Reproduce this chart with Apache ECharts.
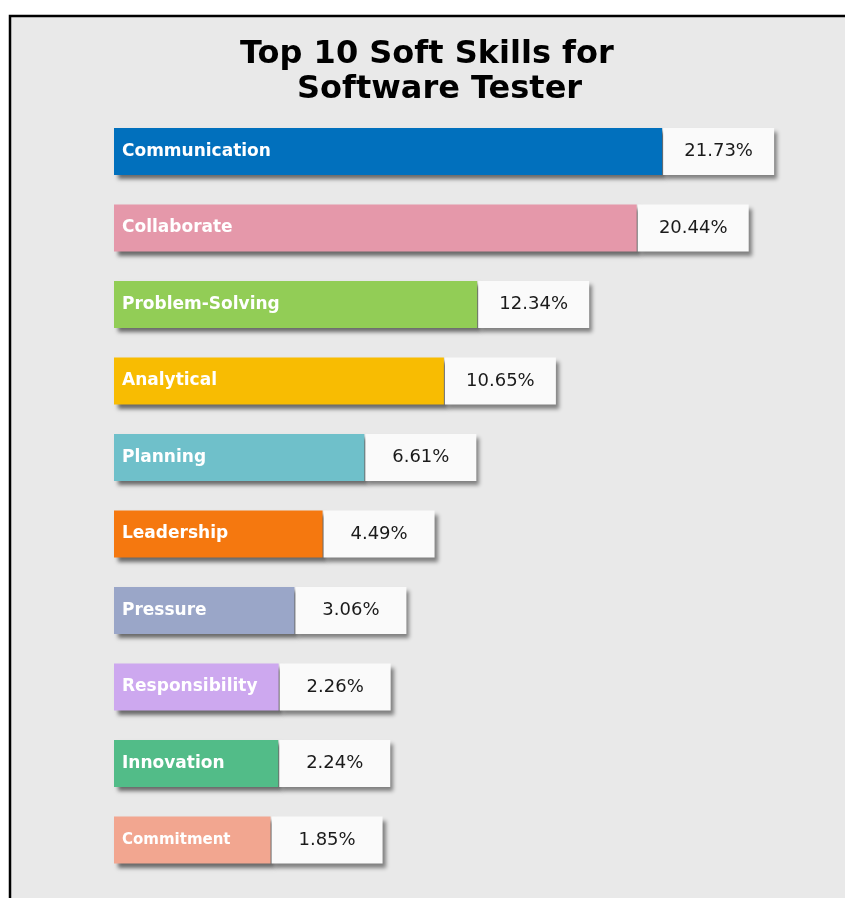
<!DOCTYPE html>
<html>
<head>
<meta charset="utf-8">
<script src="https://cdn.jsdelivr.net/npm/echarts@6/dist/echarts.min.js"></script>
<style>
  html, body { margin: 0; padding: 0; background: #ffffff; }
  #chart { width: 845px; height: 898px; }
</style>
</head>
<body>
<div id="chart"></div>
<script>
// Soft skills ranked by share of mentions (%)
const skills = ['Communication', 'Collaborate', 'Problem-Solving', 'Analytical', 'Planning',
                'Leadership', 'Pressure', 'Responsibility', 'Innovation', 'Commitment'];
const shares = [21.73, 20.44, 12.34, 10.65, 6.61, 4.49, 3.06, 2.26, 2.24, 1.85];
const barColors = ['#0170BD', '#E598AA', '#92CD56', '#F8BC02', '#6FC0CA',
                   '#F5780F', '#9AA6C8', '#CDA8EF', '#52BC88', '#F2A690'];
const titleLines = ['Top 10 Soft Skills for', 'Software Tester'];

const chart = echarts.init(document.getElementById('chart'), null, { renderer: 'canvas' });

const FONT = 'DejaVu Sans';
const AXIS_START = -6.1;

// the last (smallest) bar gets a slightly smaller name label
const barData = shares.map((v, i) => ({
  value: v,
  itemStyle: { color: barColors[i] },
  label: i === skills.length - 1 ? { fontSize: 15 } : undefined
}));

chart.setOption({
  backgroundColor: '#ffffff',
  animation: false,
  graphic: [{
    type: 'rect',
    z: -10,
    shape: { x: 10, y: 16, width: 850, height: 900 },
    style: { fill: '#e9e9e9', stroke: '#000000', lineWidth: 2.5 }
  }],
  title: [
    {
      text: titleLines[0], left: 235, top: 34,
      textStyle: { fontFamily: FONT, fontWeight: 'bold', fontSize: 32, color: '#000000' }
    },
    {
      text: titleLines[1], left: 292, top: 69,
      textStyle: { fontFamily: FONT, fontWeight: 'bold', fontSize: 32, color: '#000000' }
    }
  ],
  grid: { left: 114, right: 20, top: 113.25, bottom: 19.75, containLabel: false },
  xAxis: {
    type: 'value', min: AXIS_START, max: 30, startValue: AXIS_START, show: false,
    splitLine: { show: false }
  },
  yAxis: {
    type: 'category', data: skills, inverse: true, show: false
  },
  series: [
    {
      type: 'bar',
      data: barData,
      barWidth: 47,
      z: 2,
      itemStyle: {
        shadowColor: 'rgba(0,0,0,0.55)', shadowBlur: 4, shadowOffsetX: 4, shadowOffsetY: 4
      },
      label: {
        show: true, position: 'insideLeft', distance: 8,
        formatter: p => p.name,
        color: '#ffffff', fontFamily: FONT, fontWeight: 'bold', fontSize: 17
      }
    },
    {
      type: 'bar',
      data: shares,
      barWidth: 47,
      barGap: '-100%',
      z: 3,
      itemStyle: { color: 'rgba(0,0,0,0)' },
      label: {
        show: true, position: 'right', distance: 1,
        formatter: p => '{box|' + p.value.toFixed(2) + '%}',
        rich: {
          box: {
            width: 111, height: 47, align: 'center', verticalAlign: 'middle',
            backgroundColor: '#fafafa', color: '#1a1a1a',
            fontFamily: FONT, fontSize: 18,
            shadowColor: 'rgba(0,0,0,0.45)', shadowBlur: 4, shadowOffsetX: 3, shadowOffsetY: 4
          }
        }
      }
    }
  ]
});
</script>
</body>
</html>
